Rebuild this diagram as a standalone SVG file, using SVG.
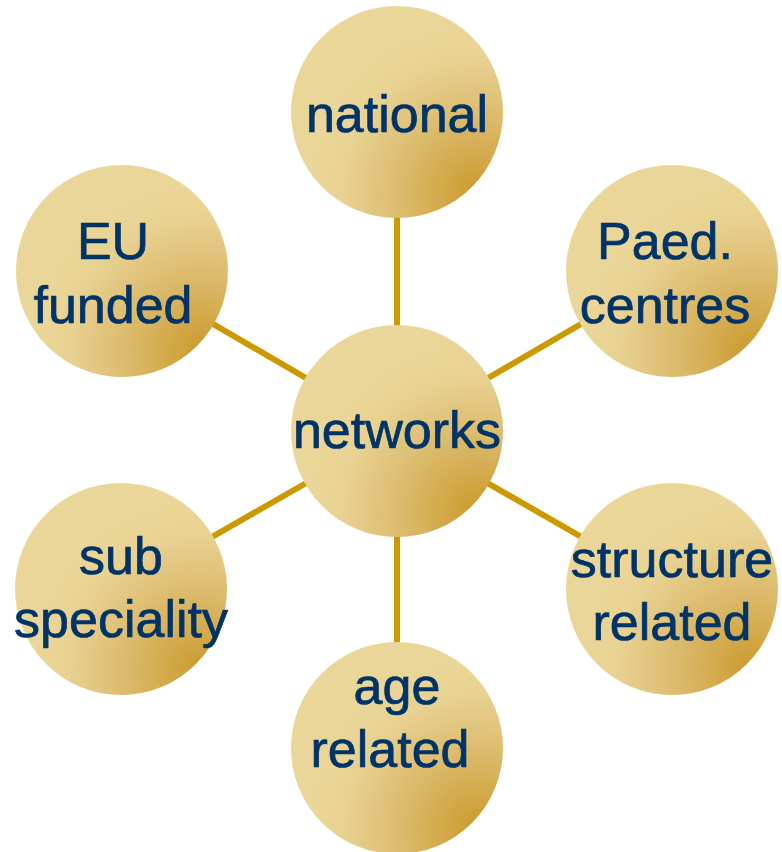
<svg xmlns="http://www.w3.org/2000/svg" width="782" height="852" viewBox="0 0 782 852">
<defs>
<radialGradient id="g" cx="0.88" cy="0.88" r="0.8" fx="0.88" fy="0.88">
<stop offset="0" stop-color="#CB9A2C"/>
<stop offset="0.45" stop-color="#DCBA6C"/>
<stop offset="0.8" stop-color="#E8D293"/>
<stop offset="1" stop-color="#EBD699"/>
</radialGradient>
</defs>
<style>
.c{fill:url(#g)}
.l{stroke:#CC9900;stroke-width:6;fill:none}
text{font-family:"Liberation Sans",Arial,sans-serif;font-size:52px;fill:#003366;stroke:#003366;stroke-width:0.7;text-anchor:middle}
</style>
<g id="connectors">
<line class="l" x1="397" y1="431" x2="397" y2="112"/>
<line class="l" x1="397" y1="431" x2="122" y2="271"/>
<line class="l" x1="397" y1="431" x2="672" y2="271"/>
<line class="l" x1="397" y1="431" x2="121" y2="589"/>
<line class="l" x1="397" y1="431" x2="672" y2="589"/>
<line class="l" x1="397" y1="431" x2="397" y2="748"/>
</g>
<g id="national"><circle class="c" cx="397" cy="112" r="106"/><text x="397" y="132">national</text></g>
<g id="eu"><circle class="c" cx="122" cy="271" r="106"/><text x="113" y="259">EU</text><text x="113" y="323">funded</text></g>
<g id="paed"><circle class="c" cx="672" cy="271" r="106"/><text x="665" y="259">Paed.</text><text x="665" y="323">centres</text></g>
<g id="networks"><circle class="c" cx="397" cy="431" r="106"/><text x="397" y="448">networks</text></g>
<g id="sub"><circle class="c" cx="121" cy="589" r="106"/><text x="121" y="574">sub</text><text x="121" y="637">speciality</text></g>
<g id="structure"><circle class="c" cx="672" cy="589" r="106"/><text x="672" y="577">structure</text><text x="672" y="640">related</text></g>
<g id="age"><circle class="c" cx="397" cy="748" r="106"/><text x="397" y="704">age</text><text x="390" y="767">related</text></g>
</svg>
